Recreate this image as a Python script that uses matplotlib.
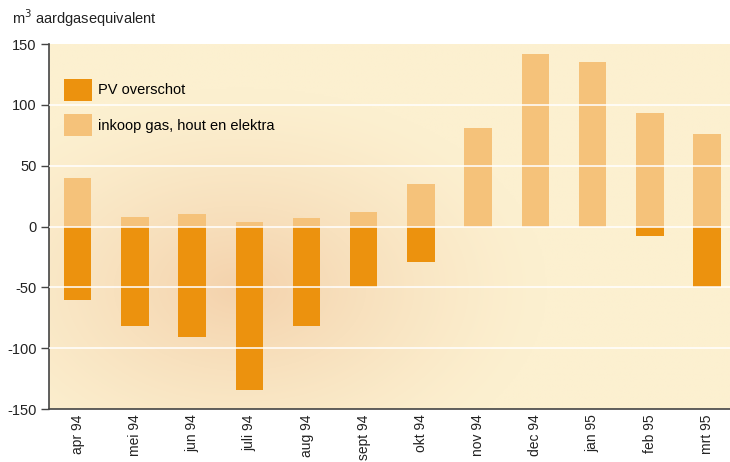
import numpy as np
import matplotlib
matplotlib.use("Agg")
import matplotlib.pyplot as plt
from matplotlib.patches import Patch

months = ["apr 94", "mei 94", "jun 94", "juli 94", "aug 94", "sept 94",
          "okt 94", "nov 94", "dec 94", "jan 95", "feb 95", "mrt 95"]
pv_overschot = [-60, -82, -91, -134, -82, -50, -29, 0, 0, 0, -8, -50]
inkoop = [40, 8, 10, 4, 7, 12, 35, 81, 142, 135, 93, 76]
yticks = [-150, -100, -50, 0, 50, 100, 150]

plt.rcParams['font.family'] = ['Liberation Sans', 'DejaVu Sans']

fig = plt.figure(figsize=(7.3, 4.62), dpi=100)
ax = fig.add_axes([49/730, 1-409/462, 681/730, 365/462])

x = np.arange(len(months))
xlim = (-0.5, 11.4)
ylim = (-150, 150)

# background with soft peach glow
nx, ny = 400, 250
gx = np.linspace(0, 1, nx)
gy = np.linspace(0, 1, ny)
GX, GY = np.meshgrid(gx, gy)
cx, cy = 0.28, 0.33  # relative to axes, y from bottom
d = np.sqrt(((GX - cx) / 0.45) ** 2 + ((GY - cy) / 0.55) ** 2)
w = np.clip(1 - d, 0, 1) ** 1.3
base = np.array([252, 240, 208]) / 255
glow = np.array([244, 210, 172]) / 255
img = base[None, None, :] * (1 - w[..., None]) + glow[None, None, :] * w[..., None]
ax.imshow(img, extent=[xlim[0], xlim[1], ylim[0], ylim[1]], origin='lower',
          aspect='auto', zorder=0, interpolation='bilinear')

dark = '#ec920e'
light = '#f5c27a'
bw = 0.48
ax.bar(x, inkoop, width=bw, color=light, zorder=2)
ax.bar(x, pv_overschot, width=bw, color=dark, zorder=2)

for yv in [-100, -50, 0, 50, 100]:
    ax.axhline(yv, color='white', lw=1.3, alpha=0.85, zorder=3)

ax.set_xlim(*xlim)
ax.set_ylim(*ylim)
ax.set_yticks(yticks)
ax.set_yticklabels([str(v) for v in yticks], fontsize=10.5, color='#222222')
ax.set_xticks(x)
ax.set_xticklabels(months, rotation=90, fontsize=10, color='#222222', va='top')
ax.tick_params(axis='x', length=0, pad=4)
ax.tick_params(axis='y', length=6, width=1, color='#444444', pad=3)
for s in ['top', 'right']:
    ax.spines[s].set_visible(False)
for s in ['left', 'bottom']:
    ax.spines[s].set_color('#444444')
    ax.spines[s].set_linewidth(1.2)

handles = [Patch(facecolor=dark, edgecolor='none', label='PV overschot'),
           Patch(facecolor=light, edgecolor='none', label='inkoop gas, hout en elektra')]
leg = ax.legend(handles=handles, loc='upper left', bbox_to_anchor=(0.022, 1 - 35/365),
                frameon=False, fontsize=10.5, handlelength=1.9, handleheight=1.9,
                labelspacing=0.95, handletextpad=0.45, borderpad=0, borderaxespad=0)

fig.text(12/730, 1-18/462, 'm$^3$ aardgasequivalent', fontsize=10.5,
         color='#222222', va='center', ha='left')

fig.savefig('out.png', dpi=100)
